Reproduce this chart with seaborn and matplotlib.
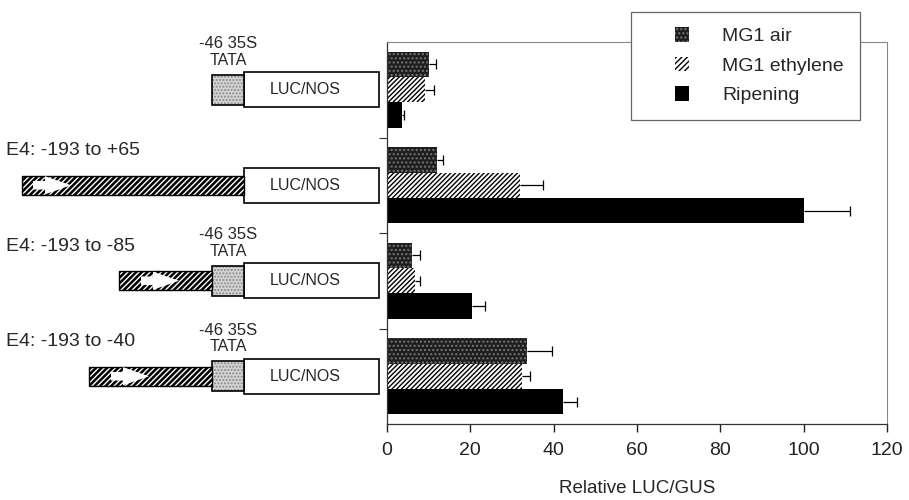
import numpy as np
import pandas as pd
import matplotlib
matplotlib.use('Agg')
import matplotlib.pyplot as plt
import seaborn as sns
from matplotlib.patches import Rectangle, Polygon, Patch
from matplotlib.legend_handler import HandlerPatch

# Data
constructs = ['-46 35S', 'E4: -193 to +65', 'E4: -193 to -85', 'E4: -193 to -40']
conditions = ['MG1 air', 'MG1 ethylene', 'Ripening']
mg1_air = [10.0, 12.0, 6.0, 33.5]
mg1_air_err = [1.8, 1.5, 2.0, 6.0]
mg1_eth = [9.0, 32.0, 6.7, 32.3]
mg1_eth_err = [2.2, 5.5, 1.2, 2.0]
ripening = [3.6, 100.0, 20.3, 42.3]
ripening_err = [0.5, 11.2, 3.3, 3.2]
x_ticks = [0, 20, 40, 60, 80, 100, 120]

# construct diagrams (left side), x in pixels of the left panel
promoter_labels = ['', 'E4: -193 to +65', 'E4: -193 to -85', 'E4: -193 to -40']
has_tata = [True, False, True, True]
e4_start = [None, 22, 119, 89]
arrow_start = [None, 33, 141, 111]

rows = []
for cond, vals in zip(conditions, [mg1_air, mg1_eth, ripening]):
    for c, v in zip(constructs, vals):
        rows.append({'construct': c, 'condition': cond, 'value': v})
df = pd.DataFrame(rows)

sns.set_style('ticks')
plt.rcParams['font.family'] = ['Liberation Sans', 'DejaVu Sans']
plt.rcParams['hatch.linewidth'] = 1.0

fig = plt.figure(figsize=(9.09, 5.0), dpi=100)
ax = fig.add_axes([387 / 909, 76 / 500, 500 / 909, 382 / 500])

palette = {'MG1 air': '#1e1e1e', 'MG1 ethylene': 'white', 'Ripening': 'black'}
sns.barplot(data=df, x='value', y='construct', hue='condition', orient='h',
            order=constructs, hue_order=conditions, palette=palette,
            saturation=1, errorbar=None, legend=False, ax=ax)

bar_containers = list(ax.containers)
for bar in bar_containers[0]:
    bar.set_hatch('....')
    bar.set_edgecolor('#777777')
    bar.set_linewidth(0)
for bar in bar_containers[1]:
    bar.set_hatch('///////')
    bar.set_edgecolor('black')
    bar.set_linewidth(0)
for bar in bar_containers[2]:
    bar.set_linewidth(0)

# one-sided error bars (cap only on the outer end)
for cont, errs in zip(bar_containers, [mg1_air_err, mg1_eth_err, ripening_err]):
    xs = [b.get_width() for b in cont]
    ys = [b.get_y() + b.get_height() / 2 for b in cont]
    eb = ax.errorbar(xs, ys, xerr=[np.zeros(len(errs)), errs], fmt='none',
                     ecolor='black', elinewidth=0.9, capsize=3.5, capthick=0.9)
    eb[1][0].remove()

ax.set_xlim(0, 120)
ax.set_ylim(3.5, -0.5)
ax.set_xticks(x_ticks)
ax.set_xticklabels([str(t) for t in x_ticks], fontsize=14)
ax.set_yticks([0.5, 1.5, 2.5])
ax.set_yticklabels([])
ax.set_ylabel('')
ax.set_xlabel('Relative LUC/GUS', fontsize=13.5, labelpad=15)
ax.tick_params(axis='x', length=6, width=1, direction='out', pad=7, colors='#222222')
ax.tick_params(axis='y', length=6, width=0.8, direction='out', colors='#333333')
for side in ['left', 'bottom']:
    ax.spines[side].set_color('#333333')
    ax.spines[side].set_linewidth(0.9)
for side in ['top', 'right']:
    ax.spines[side].set_visible(True)
    ax.spines[side].set_color('#888888')
    ax.spines[side].set_linewidth(0.8)


# legend with small squares sitting at the right of the handle area
def right_square(legend, orig_handle, xdescent, ydescent, width, height, fontsize):
    s = 10.5
    return Rectangle((-xdescent + width - s, -ydescent + height / 2 - s / 2), s, s)


handles = [Patch(facecolor='#1e1e1e', edgecolor='#777777', hatch='....', linewidth=0),
           Patch(facecolor='white', edgecolor='black', hatch='//////', linewidth=0),
           Patch(facecolor='black', edgecolor='black', linewidth=0)]
leg = ax.legend(handles, conditions, loc='upper left',
                bbox_to_anchor=(631 / 909, 488 / 500), bbox_transform=fig.transFigure,
                borderaxespad=0, fontsize=14, frameon=True, fancybox=False,
                handlelength=2.2, handletextpad=1.7, labelspacing=0.62, borderpad=0.8,
                handler_map={Patch: HandlerPatch(patch_func=right_square)})
leg.get_frame().set_edgecolor('#666666')
leg.get_frame().set_linewidth(0.9)
leg.get_frame().set_facecolor('white')
leg.get_frame().set_alpha(1)

# construct diagrams
axl = fig.add_axes([0, 76 / 500, 387 / 909, 382 / 500])
axl.set_xlim(0, 387)
axl.set_ylim(3.5, -0.5)
axl.axis('off')

luc_x0, luc_x1, luc_h = 244, 379, 0.37
tata_x0, tata_h = 212, 0.31
e4_h = 0.2
for i in range(len(constructs)):
    yc = i
    axl.add_patch(Rectangle((luc_x0, yc - luc_h / 2), luc_x1 - luc_x0, luc_h,
                            facecolor='white', edgecolor='black', linewidth=1.2))
    axl.text((luc_x0 + luc_x1) / 2 - 6, yc, 'LUC/NOS', ha='center', va='center',
             fontsize=11.5)
    if has_tata[i]:
        axl.add_patch(Rectangle((tata_x0, yc - tata_h / 2), luc_x0 - tata_x0, tata_h,
                                facecolor='#d4d4d4', edgecolor='#8a8a8a', hatch='.....',
                                linewidth=0))
        axl.add_patch(Rectangle((tata_x0, yc - tata_h / 2), luc_x0 - tata_x0, tata_h,
                                facecolor='none', edgecolor='black', linewidth=1.2))
        axl.text((tata_x0 + luc_x0) / 2, yc - 0.48, '-46 35S', ha='center', va='center',
                 fontsize=12)
        axl.text((tata_x0 + luc_x0) / 2, yc - 0.31, 'TATA', ha='center', va='center',
                 fontsize=11.5)
    if e4_start[i] is not None:
        x1 = tata_x0 if has_tata[i] else luc_x0
        axl.add_patch(Rectangle((e4_start[i], yc - e4_h / 2), x1 - e4_start[i], e4_h,
                                facecolor='black', edgecolor='white', hatch='//////',
                                linewidth=0))
        axl.add_patch(Rectangle((e4_start[i], yc - e4_h / 2), x1 - e4_start[i], e4_h,
                                facecolor='none', edgecolor='black', linewidth=1))
        a0 = arrow_start[i]
        axl.add_patch(Polygon([(a0, yc - 0.045), (a0 + 12, yc - 0.045), (a0 + 12, yc - 0.095),
                               (a0 + 38, yc), (a0 + 12, yc + 0.095), (a0 + 12, yc + 0.045),
                               (a0, yc + 0.045)], closed=True, facecolor='white',
                              edgecolor='none'))
        axl.text(6, yc - 0.36, promoter_labels[i], ha='left', va='center', fontsize=14)

fig.savefig('out.png', dpi=100, facecolor='white')
